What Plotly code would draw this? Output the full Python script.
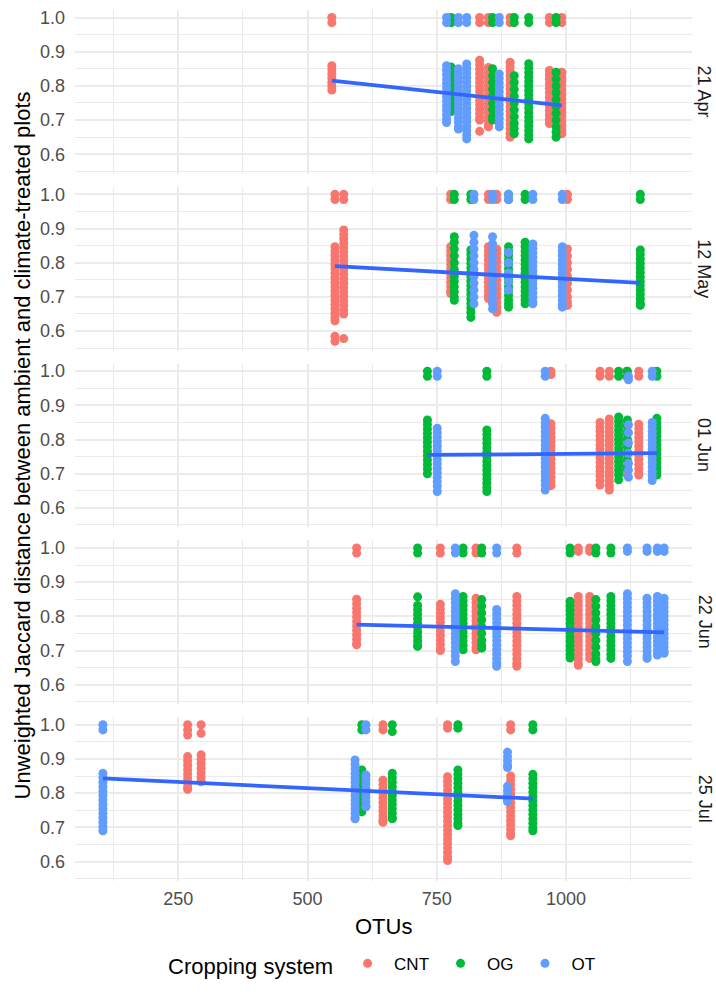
import plotly.graph_objects as go
from plotly.subplots import make_subplots

DATES = ["21 Apr", "12 May", "01 Jun", "22 Jun", "25 Jul"]
GROUPS = ["CNT", "OG", "OT"]
COLORS = {"CNT": "#F8766D", "OG": "#00BA38", "OT": "#619CFF"}

# (cropping system, OTUs, distances)
APR21 = [
    ("CNT", 547, [1.0, 0.985, 0.859, 0.847, 0.835, 0.823, 0.811, 0.800, 0.788]),
    ("OT", 769, [1.0, 0.985, 0.859, 0.846, 0.833, 0.820, 0.807, 0.794, 0.781, 0.768, 0.755, 0.742, 0.729, 0.716, 0.704, 0.693]),
    ("OG", 778, [1.0, 0.985, 0.855, 0.838, 0.82, 0.80, 0.785, 0.765, 0.745, 0.725]),
    ("OT", 792, [1.0, 0.985, 0.85, 0.837, 0.824, 0.811, 0.798, 0.785, 0.772, 0.759, 0.746, 0.733, 0.72, 0.707, 0.694, 0.681, 0.674]),
    ("OT", 808, [1.0, 0.985, 0.864, 0.851, 0.838, 0.825, 0.812, 0.799, 0.786, 0.773, 0.76, 0.747, 0.734, 0.721, 0.708, 0.695, 0.682, 0.669, 0.656, 0.645]),
    ("CNT", 833, [1.0, 0.985, 0.875, 0.862, 0.849, 0.836, 0.823, 0.81, 0.797, 0.784, 0.771, 0.758, 0.745, 0.732, 0.719, 0.706, 0.70, 0.667]),
    ("CNT", 850, [1.0, 0.985, 0.854, 0.841, 0.828, 0.815, 0.802, 0.789, 0.776, 0.763, 0.75, 0.737, 0.724, 0.711, 0.698, 0.685, 0.68]),
    ("OG", 858, [1.0, 0.985, 0.85, 0.83, 0.81, 0.79, 0.77, 0.75, 0.73, 0.71, 0.70]),
    ("OT", 871, [1.0, 0.985, 0.835, 0.822, 0.809, 0.796, 0.783, 0.77, 0.757, 0.744, 0.731, 0.718, 0.705, 0.692, 0.68]),
    ("CNT", 892, [1.0, 0.985, 0.869, 0.856, 0.843, 0.83, 0.817, 0.804, 0.791, 0.778, 0.765, 0.752, 0.739, 0.726, 0.713, 0.70, 0.687, 0.674, 0.661, 0.65]),
    ("OG", 900, [1.0, 0.985, 0.83, 0.81, 0.79, 0.77, 0.75, 0.73, 0.71, 0.69, 0.675, 0.66]),
    ("OG", 928, [1.0, 0.985, 0.865, 0.852, 0.839, 0.826, 0.813, 0.80, 0.787, 0.774, 0.761, 0.748, 0.735, 0.722, 0.709, 0.696, 0.683, 0.67, 0.657, 0.645]),
    ("CNT", 968, [1.0, 0.985, 0.845, 0.832, 0.819, 0.806, 0.793, 0.78, 0.767, 0.754, 0.741, 0.728, 0.715, 0.702, 0.69]),
    ("OG", 981, [1.0, 0.985, 0.84, 0.82, 0.80, 0.78, 0.76, 0.74, 0.72, 0.70, 0.68, 0.665, 0.65]),
    ("CNT", 992, [1.0, 0.985, 0.84, 0.827, 0.814, 0.801, 0.788, 0.775, 0.762, 0.749, 0.736, 0.723, 0.71, 0.697, 0.684, 0.671, 0.66]),
]

MAY12 = [
    ("CNT", 553, [1.0, 0.985, 0.847, 0.834, 0.821, 0.808, 0.795, 0.782, 0.769, 0.756, 0.743, 0.73, 0.717, 0.704, 0.691, 0.678, 0.665, 0.652, 0.64, 0.63, 0.585, 0.57]),
    ("CNT", 570, [1.0, 0.985, 0.896, 0.883, 0.87, 0.857, 0.844, 0.831, 0.818, 0.805, 0.792, 0.779, 0.766, 0.753, 0.74, 0.727, 0.714, 0.701, 0.688, 0.675, 0.662, 0.65, 0.578]),
    ("CNT", 777, [1.0, 0.985, 0.847, 0.834, 0.821, 0.808, 0.795, 0.782, 0.769, 0.756, 0.743, 0.73, 0.717, 0.71]),
    ("OG", 784, [1.0, 0.985, 0.876, 0.86, 0.84, 0.82, 0.80, 0.78, 0.76, 0.745, 0.73, 0.715, 0.70, 0.69]),
    ("OG", 816, [1.0, 0.985, 0.837, 0.824, 0.811, 0.798, 0.785, 0.772, 0.759, 0.746, 0.733, 0.72, 0.707, 0.694, 0.681, 0.668, 0.655, 0.64]),
    ("OT", 822, [1.0, 0.985, 0.88, 0.86, 0.84, 0.82, 0.80, 0.78, 0.76, 0.74, 0.72, 0.70, 0.68]),
    ("CNT", 850, [1.0, 0.985, 0.847, 0.834, 0.821, 0.808, 0.795, 0.782, 0.769, 0.756, 0.743, 0.73, 0.717, 0.704, 0.695]),
    ("OT", 858, [1.0, 0.985, 0.876, 0.856, 0.836, 0.816, 0.796, 0.776, 0.756, 0.736, 0.716, 0.696, 0.68, 0.665]),
    ("CNT", 866, [1.0, 0.985, 0.84, 0.827, 0.814, 0.801, 0.788, 0.775, 0.762, 0.749, 0.736, 0.723, 0.71, 0.697, 0.684, 0.671, 0.66, 0.655]),
    ("OG", 889, [1.0, 0.985, 0.847, 0.834, 0.821, 0.808, 0.795, 0.782, 0.769, 0.756, 0.743, 0.73, 0.717, 0.704, 0.691, 0.68, 0.67]),
    ("OT", 889, [1.0, 0.985, 0.83, 0.80, 0.77, 0.745, 0.72]),
    ("OG", 921, [1.0, 0.985, 0.86, 0.847, 0.834, 0.821, 0.808, 0.795, 0.782, 0.769, 0.756, 0.743, 0.73, 0.717, 0.704, 0.691, 0.68]),
    ("OT", 936, [1.0, 0.985, 0.855, 0.842, 0.829, 0.816, 0.803, 0.79, 0.777, 0.764, 0.751, 0.738, 0.725, 0.712, 0.699, 0.686, 0.68]),
    ("OT", 993, [1.0, 0.985, 0.847, 0.834, 0.821, 0.808, 0.795, 0.782, 0.769, 0.756, 0.743, 0.73, 0.717, 0.704, 0.691, 0.678, 0.67]),
    ("CNT", 1003, [1.0, 0.985, 0.84, 0.82, 0.80, 0.78, 0.76, 0.74, 0.72, 0.70, 0.685, 0.675]),
    ("OG", 1144, [1.0, 0.985, 0.837, 0.824, 0.811, 0.798, 0.785, 0.772, 0.759, 0.746, 0.733, 0.72, 0.707, 0.694, 0.681, 0.675]),
]

JUN01 = [
    ("OG", 732, [1.0, 0.985, 0.857, 0.844, 0.831, 0.818, 0.805, 0.792, 0.779, 0.766, 0.753, 0.74, 0.727, 0.714, 0.70]),
    ("OT", 751, [1.0, 0.985, 0.833, 0.82, 0.807, 0.794, 0.781, 0.768, 0.755, 0.742, 0.729, 0.716, 0.703, 0.69, 0.677, 0.664, 0.648]),
    ("OG", 847, [1.0, 0.985, 0.828, 0.815, 0.802, 0.789, 0.776, 0.763, 0.75, 0.737, 0.724, 0.711, 0.698, 0.685, 0.672, 0.66, 0.648]),
    ("OT", 960, [1.0, 0.985, 0.862, 0.849, 0.836, 0.823, 0.81, 0.797, 0.784, 0.771, 0.758, 0.745, 0.732, 0.719, 0.706, 0.693, 0.68, 0.667, 0.652]),
    ("CNT", 971, [1.0, 0.99, 0.846, 0.833, 0.82, 0.807, 0.794, 0.781, 0.768, 0.755, 0.742, 0.729, 0.716, 0.703, 0.69, 0.677, 0.665]),
    ("CNT", 1066, [1.0, 0.985, 0.85, 0.837, 0.824, 0.811, 0.798, 0.785, 0.772, 0.759, 0.746, 0.733, 0.72, 0.707, 0.694, 0.681, 0.667]),
    ("CNT", 1084, [1.0, 0.985, 0.86, 0.847, 0.834, 0.821, 0.808, 0.795, 0.782, 0.769, 0.756, 0.743, 0.73, 0.717, 0.704, 0.691, 0.678, 0.665, 0.652]),
    ("OG", 1102, [1.0, 0.985, 0.866, 0.853, 0.84, 0.827, 0.814, 0.801, 0.788, 0.775, 0.762, 0.749, 0.736, 0.723, 0.71, 0.697, 0.682]),
    ("CNT", 1117, [1.0, 0.985, 0.85, 0.83, 0.81, 0.79, 0.77, 0.75, 0.73, 0.71, 0.70]),
    ("OG", 1119, [1.0, 0.985, 0.857, 0.84, 0.82, 0.80, 0.78, 0.76, 0.74, 0.72, 0.715]),
    ("OT", 1121, [0.985, 0.975, 0.843, 0.82, 0.79, 0.76, 0.73, 0.71, 0.69]),
    ("CNT", 1141, [1.0, 0.985, 0.845, 0.832, 0.819, 0.806, 0.793, 0.78, 0.767, 0.754, 0.741, 0.728, 0.715, 0.702, 0.696]),
    ("OT", 1167, [1.0, 0.985, 0.85, 0.837, 0.824, 0.811, 0.798, 0.785, 0.772, 0.759, 0.746, 0.733, 0.72, 0.707, 0.694, 0.68]),
    ("OG", 1176, [1.0, 0.985, 0.862, 0.849, 0.836, 0.823, 0.81, 0.797, 0.784, 0.771, 0.758, 0.745, 0.732, 0.719, 0.706, 0.696]),
]

JUN22 = [
    ("CNT", 595, [1.0, 0.985, 0.85, 0.837, 0.824, 0.811, 0.798, 0.785, 0.772, 0.759, 0.746, 0.733, 0.72, 0.717]),
    ("OG", 713, [1.0, 0.985, 0.857, 0.832, 0.819, 0.806, 0.793, 0.78, 0.767, 0.754, 0.741, 0.728, 0.715, 0.712]),
    ("CNT", 757, [1.0, 0.985, 0.835, 0.822, 0.809, 0.796, 0.783, 0.77, 0.757, 0.744, 0.731, 0.718, 0.705, 0.70]),
    ("OT", 786, [1.0, 0.985, 0.866, 0.853, 0.84, 0.827, 0.814, 0.801, 0.788, 0.775, 0.762, 0.749, 0.736, 0.723, 0.71, 0.697, 0.684, 0.668]),
    ("OG", 801, [1.0, 0.985, 0.858, 0.845, 0.832, 0.819, 0.806, 0.793, 0.78, 0.767, 0.754, 0.741, 0.728, 0.715, 0.702]),
    ("CNT", 826, [1.0, 0.985, 0.853, 0.84, 0.827, 0.814, 0.801, 0.788, 0.775, 0.762, 0.749, 0.736, 0.723, 0.71, 0.702]),
    ("OG", 837, [1.0, 0.985, 0.849, 0.83, 0.81, 0.79, 0.77, 0.75, 0.73, 0.715, 0.707]),
    ("OT", 866, [1.0, 0.985, 0.82, 0.807, 0.794, 0.781, 0.768, 0.755, 0.742, 0.729, 0.716, 0.703, 0.69, 0.677, 0.664, 0.654]),
    ("CNT", 905, [1.0, 0.985, 0.858, 0.845, 0.832, 0.819, 0.806, 0.793, 0.78, 0.767, 0.754, 0.741, 0.728, 0.715, 0.702, 0.689, 0.676, 0.663, 0.654]),
    ("OG", 1008, [1.0, 0.985, 0.844, 0.831, 0.818, 0.805, 0.792, 0.779, 0.766, 0.753, 0.74, 0.727, 0.714, 0.701, 0.688, 0.678]),
    ("CNT", 1024, [1.0, 0.99, 0.858, 0.845, 0.832, 0.819, 0.806, 0.793, 0.78, 0.767, 0.754, 0.741, 0.728, 0.715, 0.702, 0.689, 0.676, 0.663, 0.657]),
    ("CNT", 1046, [1.0, 0.99, 0.858, 0.845, 0.832, 0.819, 0.806, 0.793, 0.78, 0.767, 0.754, 0.741, 0.728, 0.715, 0.702, 0.689, 0.677]),
    ("OG", 1058, [1.0, 0.985, 0.849, 0.83, 0.81, 0.79, 0.77, 0.75, 0.73, 0.71, 0.69, 0.675, 0.668]),
    ("OG", 1087, [1.0, 0.985, 0.858, 0.845, 0.832, 0.819, 0.806, 0.793, 0.78, 0.767, 0.754, 0.741, 0.728, 0.715, 0.702, 0.689, 0.677]),
    ("OT", 1119, [1.0, 0.99, 0.866, 0.853, 0.84, 0.827, 0.814, 0.801, 0.788, 0.775, 0.762, 0.749, 0.736, 0.723, 0.71, 0.697, 0.684, 0.668]),
    ("OT", 1157, [1.0, 0.99, 0.853, 0.84, 0.827, 0.814, 0.801, 0.788, 0.775, 0.762, 0.749, 0.736, 0.723, 0.71, 0.697, 0.684, 0.677]),
    ("OT", 1177, [1.0, 0.99, 0.858, 0.845, 0.832, 0.819, 0.806, 0.793, 0.78, 0.767, 0.754, 0.741, 0.728, 0.715, 0.702, 0.69, 0.687]),
    ("OT", 1190, [1.0, 0.99, 0.853, 0.84, 0.827, 0.814, 0.801, 0.788, 0.775, 0.762, 0.749, 0.736, 0.723, 0.71, 0.697, 0.692]),
]

JUL25 = [
    ("OT", 104, [1.0, 0.985, 0.858, 0.845, 0.832, 0.819, 0.806, 0.793, 0.78, 0.767, 0.754, 0.741, 0.728, 0.715, 0.702, 0.69]),
    ("CNT", 268, [1.0, 0.985, 0.97, 0.907, 0.894, 0.881, 0.868, 0.855, 0.842, 0.829, 0.818, 0.811]),
    ("CNT", 294, [1.0, 0.975, 0.912, 0.899, 0.886, 0.873, 0.86, 0.847, 0.835, 0.833]),
    ("OT", 592, [0.897, 0.884, 0.871, 0.858, 0.845, 0.832, 0.819, 0.806, 0.793, 0.78, 0.767, 0.754, 0.741, 0.728, 0.725]),
    ("OG", 605, [1.0, 0.985, 0.868, 0.85, 0.83, 0.81, 0.79, 0.77, 0.75, 0.745]),
    ("OT", 613, [1.0, 0.985, 0.853, 0.84, 0.827, 0.814, 0.801, 0.788, 0.775, 0.762, 0.76]),
    ("CNT", 646, [1.0, 0.985, 0.838, 0.825, 0.812, 0.799, 0.786, 0.773, 0.76, 0.747, 0.734, 0.721, 0.715]),
    ("OG", 664, [1.0, 0.98, 0.858, 0.845, 0.832, 0.819, 0.806, 0.793, 0.78, 0.767, 0.754, 0.741, 0.728, 0.725]),
    ("CNT", 771, [1.0, 0.99, 0.848, 0.835, 0.822, 0.809, 0.796, 0.783, 0.77, 0.757, 0.744, 0.731, 0.718, 0.705, 0.692, 0.679, 0.666, 0.653, 0.64, 0.627, 0.614, 0.603]),
    ("OG", 791, [1.0, 0.99, 0.868, 0.855, 0.842, 0.829, 0.816, 0.803, 0.79, 0.777, 0.764, 0.751, 0.738, 0.725, 0.712, 0.705]),
    ("CNT", 893, [1.0, 0.985, 0.85, 0.837, 0.824, 0.811, 0.798, 0.785, 0.772, 0.759, 0.746, 0.733, 0.72, 0.707, 0.694, 0.681, 0.675]),
    ("OT", 887, [0.92, 0.907, 0.894, 0.881, 0.875, 0.82, 0.807, 0.794, 0.781, 0.775]),
    ("OG", 936, [1.0, 0.985, 0.855, 0.842, 0.829, 0.816, 0.803, 0.79, 0.777, 0.764, 0.751, 0.738, 0.725, 0.712, 0.699, 0.69]),
]

PANELS = [APR21, MAY12, JUN01, JUN22, JUL25]

# linear fit endpoints per panel
FIT_OTU_START = [547, 553, 732, 595, 104]
FIT_OTU_END = [992, 1144, 1176, 1190, 936]
FIT_Y_START = [0.8155, 0.790, 0.755, 0.776, 0.843]
FIT_Y_END = [0.743, 0.741, 0.760, 0.753, 0.784]

FONT = "Liberation Sans, Arial, Helvetica, sans-serif"
GRID = "#EBEBEB"

W, H = 716, 1004
ML, MR, MT, MB = 75, 24, 8, 122.5
plot_h = H - MT - MB
VS = 13.1 / plot_h

fig = make_subplots(rows=5, cols=1, shared_xaxes=True, vertical_spacing=VS)

for i, strips in enumerate(PANELS):
    row = i + 1
    for g in GROUPS:
        xs, ys = [], []
        for grp, otu, vals in strips:
            if grp == g:
                xs.extend([otu] * len(vals))
                ys.extend(vals)
        fig.add_trace(go.Scatter(
            x=xs, y=ys, mode="markers", name=g, legendgroup=g,
            showlegend=(i == 0),
            marker=dict(color=COLORS[g], size=9, line=dict(width=0)),
        ), row=row, col=1)
    fig.add_trace(go.Scatter(
        x=[FIT_OTU_START[i], FIT_OTU_END[i]], y=[FIT_Y_START[i], FIT_Y_END[i]],
        mode="lines", line=dict(color="#3366FF", width=3.8), showlegend=False,
        hoverinfo="skip",
    ), row=row, col=1)

for i in range(5):
    fig.update_yaxes(
        range=[0.543, 1.022], tick0=0, dtick=0.1, tickformat=".1f",
        showgrid=True, gridcolor=GRID, gridwidth=2, zeroline=False, showline=False,
        ticks="", ticklabelstandoff=9,
        tickfont=dict(family=FONT, size=18, color="#4D4D4D"),
        minor=dict(dtick=0.05, tick0=0, showgrid=True, gridcolor=GRID, gridwidth=1.3),
        row=i + 1, col=1,
    )
    fig.update_xaxes(
        range=[50, 1244], tick0=0, dtick=250,
        showgrid=True, gridcolor=GRID, gridwidth=2, zeroline=False, showline=False,
        ticks="", ticklabelstandoff=5,
        tickfont=dict(family=FONT, size=18, color="#4D4D4D"),
        minor=dict(dtick=125, tick0=0, showgrid=True, gridcolor=GRID, gridwidth=1.3),
        row=i + 1, col=1,
    )

annotations = []
for i, d in enumerate(DATES):
    dom = fig.layout["yaxis" + ("" if i == 0 else str(i + 1))].domain
    annotations.append(dict(
        text=d, xref="paper", yref="paper", x=(704.5 - ML) / (W - ML - MR),
        y=(dom[0] + dom[1]) / 2, textangle=90, showarrow=False,
        xanchor="center", yanchor="middle",
        font=dict(family=FONT, size=18, color="#1A1A1A"),
    ))

annotations.append(dict(
    text="Unweighted Jaccard distance between ambient and climate-treated plots",
    xref="paper", yref="paper", x=(22 - ML) / (W - ML - MR), y=0.5,
    textangle=-90, showarrow=False, xanchor="center", yanchor="middle",
    font=dict(family=FONT, size=22, color="#000000"),
))
annotations.append(dict(
    text="OTUs", xref="paper", yref="paper", x=0.5,
    y=-(927 - (H - MB)) / plot_h, showarrow=False,
    xanchor="center", yanchor="middle",
    font=dict(family=FONT, size=22, color="#000000"),
))

fig.update_layout(
    width=W, height=H,
    margin=dict(l=ML, r=MR, t=MT, b=MB),
    paper_bgcolor="white", plot_bgcolor="white",
    font=dict(family=FONT),
    annotations=annotations,
    showlegend=True,
    legend=dict(
        orientation="h", x=0.5, xanchor="center",
        y=-(966 - (H - MB)) / plot_h, yanchor="middle",
        title=dict(text="Cropping system", side="left",
                   font=dict(family=FONT, size=22, color="#000000")),
        font=dict(family=FONT, size=17, color="#000000"),
        itemsizing="trace", itemwidth=43,
    ),
)

fig.write_html("out.html")
